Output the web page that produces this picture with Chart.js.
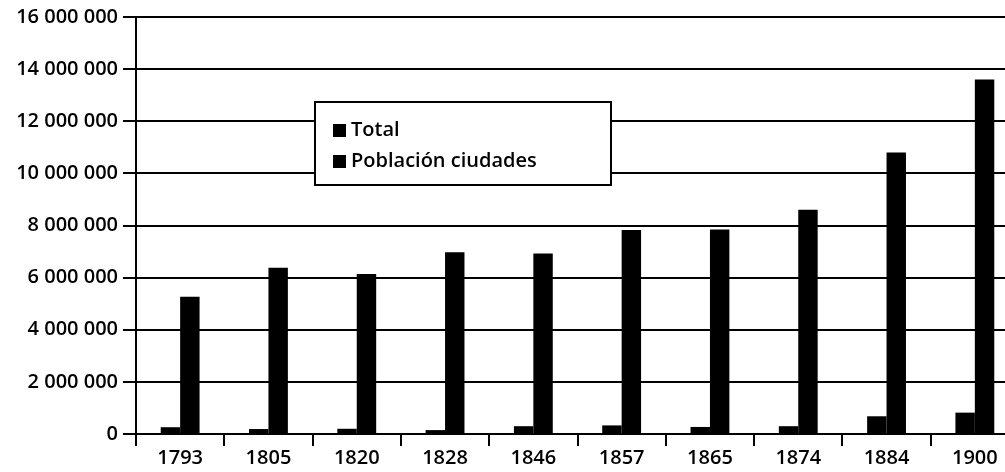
<!DOCTYPE html>
<html>
<head>
<meta charset="utf-8">
<script src="https://cdn.jsdelivr.net/npm/chart.js@4"></script>
<style>
  html, body { margin: 0; padding: 0; background: #fff; overflow: hidden; }
  #wrap { width: 1020px; height: 472px; }
</style>
</head>
<body>
<div id="wrap"><canvas id="chart-1"></canvas></div>
<script>
// data
const years = ['1793', '1805', '1820', '1828', '1846', '1857', '1865', '1874', '1884', '1900'];
const ciudades = [260000, 190000, 200000, 150000, 300000, 330000, 270000, 300000, 680000, 820000];
const total = [5270000, 6380000, 6140000, 6970000, 6930000, 7830000, 7850000, 8600000, 10800000, 13600000];
const legendLabels = ['Total', 'Población ciudades'];

const FONT = "'Open Sans', 'DejaVu Sans', sans-serif";

function fmt(v) {
    return String(v).replace(/\B(?=(\d{3})+(?!\d))/g, ' ');
}

// legend box drawn inside the plot, over the grid lines
const boxLegend = {
    id: 'boxLegend',
    afterDraw(chart) {
        const c = chart.ctx;
        const a = chart.chartArea;
        const x = a.left + 179, y = a.top + 85, w = 296, h = 83;
        c.save();
        c.fillStyle = '#fff';
        c.fillRect(x, y, w, h);
        c.strokeStyle = '#000';
        c.lineWidth = 2;
        c.strokeRect(x, y, w, h);
        c.font = '600 20px ' + FONT;
        c.textBaseline = 'middle';
        legendLabels.forEach((lab, i) => {
            const ly = y + 28 + i * 31;
            c.fillStyle = '#000';
            c.fillRect(x + 18, ly - 6, 13, 13);
            c.fillText(lab, x + 36, ly);
        });
        c.restore();
    }
};

const ctx1 = document.getElementById('chart-1');

new Chart(ctx1, {
    type: 'bar',
    data: {
        labels: years,
        datasets: [{
            label: 'Población ciudades',
            data: ciudades,
            backgroundColor: '#000'
        }, {
            label: 'Total',
            data: total,
            backgroundColor: '#000'
        }]
    },
    options: {
        responsive: true,
        maintainAspectRatio: false,
        animation: false,
        layout: { padding: { top: 17, right: 1, left: 0, bottom: 0 } },
        datasets: {
            bar: { barPercentage: 1, categoryPercentage: 0.44 }
        },
        plugins: {
            legend: { display: false },
            tooltip: { enabled: false }
        },
        scales: {
            x: {
                afterFit: (s) => { s.height = 38; },
                grid: {
                    offset: true,
                    drawOnChartArea: false,
                    drawTicks: true,
                    tickLength: 12,
                    color: '#000',
                    lineWidth: 2
                },
                border: { display: false },
                ticks: {
                    color: '#000',
                    padding: 0,
                    font: { family: FONT, size: 20, weight: '600' }
                }
            },
            y: {
                min: 0,
                max: 16000000,
                afterFit: (s) => { s.width = 136; },
                grid: {
                    color: '#000',
                    lineWidth: 2,
                    tickLength: 13
                },
                border: { color: '#000', width: 2 },
                ticks: {
                    stepSize: 2000000,
                    color: '#000',
                    padding: 5,
                    font: { family: FONT, size: 20, weight: '600' },
                    callback: (v) => fmt(v)
                }
            }
        }
    },
    plugins: [boxLegend]
});
</script>
</body>
</html>
